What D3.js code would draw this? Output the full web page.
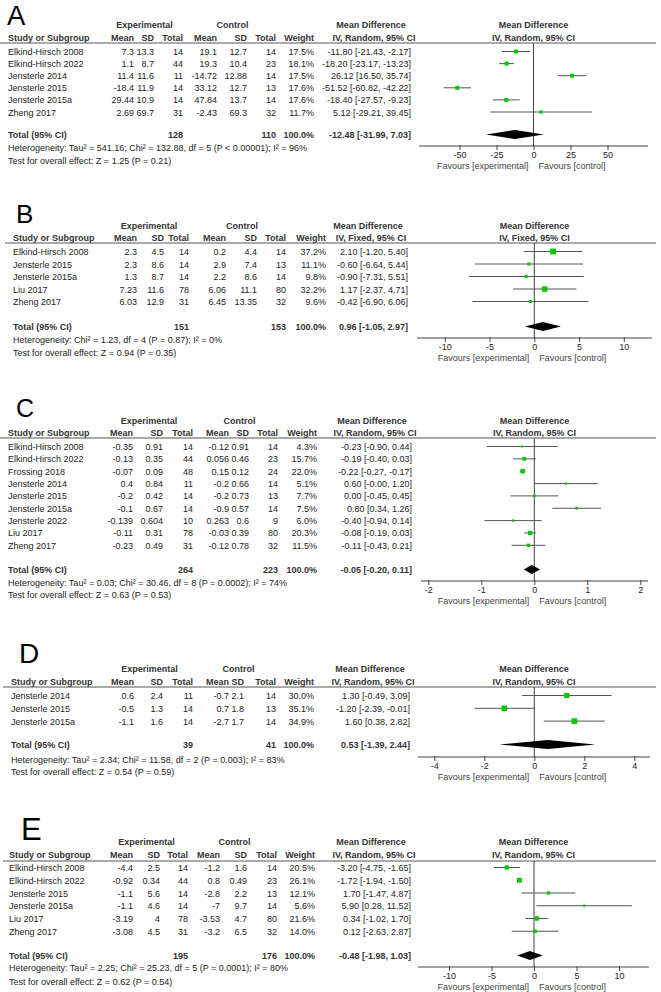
<!DOCTYPE html>
<html>
<head>
<meta charset="utf-8">
<script src="https://cdn.jsdelivr.net/npm/d3@7"></script>
<style>
  body { margin: 0; background: #fff; }
  svg text { font-family: "Liberation Sans", Arial, sans-serif; font-size: 9px; fill: #222; }
  svg text.b { font-weight: bold; fill: #333; }
</style>
</head>
<body>
<svg id="chart" width="661" height="992"></svg>
<script>
// ---- Panel A ----
const studiesA = ['Elkind-Hirsch 2008', 'Elkind-Hirsch 2022', 'Jensterle 2014', 'Jensterle 2015', 'Jensterle 2015a', 'Zheng 2017'];
const cellsA = [
  ['7.3', '13.3', '14', '19.1', '12.7', '14'],
  ['1.1', '8.7', '44', '19.3', '10.4', '23'],
  ['11.4', '11.6', '11', '-14.72', '12.88', '14'],
  ['-18.4', '11.9', '14', '33.12', '12.7', '13'],
  ['29.44', '10.9', '14', '47.84', '13.7', '14'],
  ['2.69', '69.7', '31', '-2.43', '69.3', '32']
];
const weightA = [17.5, 18.1, 17.5, 17.6, 17.6, 11.7];
const mdA = [-11.80, -18.20, 26.12, -51.52, -18.40, 5.12];
const loA = [-21.43, -23.17, 16.50, -60.82, -27.57, -29.21];
const hiA = [-2.17, -13.23, 35.74, -42.22, -9.23, 39.45];
const totalsA = ['128', '110'];
const pooledA = [-12.48, -31.99, 7.03];
const hetA = 'Heterogeneity: Tau² = 541.16; Chi² = 132.88, df = 5 (P < 0.00001); I² = 96%';
const testA = 'Test for overall effect: Z = 1.25 (P = 0.21)';
const ticksA = [-50, -25, 0, 25, 50];

// ---- Panel B ----
const studiesB = ['Elkind-Hirsch 2008', 'Jensterle 2015', 'Jensterle 2015a', 'Liu 2017', 'Zheng 2017'];
const cellsB = [
  ['2.3', '4.5', '14', '0.2', '4.4', '14'],
  ['2.3', '8.6', '14', '2.9', '7.4', '13'],
  ['1.3', '8.7', '14', '2.2', '8.6', '14'],
  ['7.23', '11.6', '78', '6.06', '11.1', '80'],
  ['6.03', '12.9', '31', '6.45', '13.35', '32']
];
const weightB = [37.2, 11.1, 9.8, 32.2, 9.6];
const mdB = [2.10, -0.60, -0.90, 1.17, -0.42];
const loB = [-1.20, -6.64, -7.31, -2.37, -6.90];
const hiB = [5.40, 5.44, 5.51, 4.71, 6.06];
const totalsB = ['151', '153'];
const pooledB = [0.96, -1.05, 2.97];
const hetB = 'Heterogeneity: Chi² = 1.23, df = 4 (P = 0.87); I² = 0%';
const testB = 'Test for overall effect: Z = 0.94 (P = 0.35)';
const ticksB = [-10, -5, 0, 5, 10];

// ---- Panel C ----
const studiesC = ['Elkind-Hirsch 2008', 'Elkind-Hirsch 2022', 'Frossing 2018', 'Jensterle 2014', 'Jensterle 2015',
  'Jensterle 2015a', 'Jensterle 2022', 'Liu 2017', 'Zheng 2017'];
const cellsC = [
  ['-0.35', '0.91', '14', '-0.12', '0.91', '14'],
  ['-0.13', '0.35', '44', '0.056', '0.46', '23'],
  ['-0.07', '0.09', '48', '0.15', '0.12', '24'],
  ['0.4', '0.84', '11', '-0.2', '0.66', '14'],
  ['-0.2', '0.42', '14', '-0.2', '0.73', '13'],
  ['-0.1', '0.67', '14', '-0.9', '0.57', '14'],
  ['-0.139', '0.604', '10', '0.263', '0.6', '9'],
  ['-0.11', '0.31', '78', '-0.03', '0.39', '80'],
  ['-0.23', '0.49', '31', '-0.12', '0.78', '32']
];
const weightC = [4.3, 15.7, 22.0, 5.1, 7.7, 7.5, 6.0, 20.3, 11.5];
const mdC = [-0.23, -0.19, -0.22, 0.60, 0.00, 0.80, -0.40, -0.08, -0.11];
const loC = [-0.90, -0.40, -0.27, -0.00, -0.45, 0.34, -0.94, -0.19, -0.43];
const hiC = [0.44, 0.03, -0.17, 1.20, 0.45, 1.26, 0.14, 0.03, 0.21];
const totalsC = ['264', '223'];
const pooledC = [-0.05, -0.20, 0.11];
const hetC = 'Heterogeneity: Tau² = 0.03; Chi² = 30.46, df = 8 (P = 0.0002); I² = 74%';
const testC = 'Test for overall effect: Z = 0.63 (P = 0.53)';
const ticksC = [-2, -1, 0, 1, 2];

// ---- Panel D ----
const studiesD = ['Jensterle 2014', 'Jensterle 2015', 'Jensterle 2015a'];
const cellsD = [
  ['0.6', '2.4', '11', '-0.7', '2.1', '14'],
  ['-0.5', '1.3', '14', '0.7', '1.8', '13'],
  ['-1.1', '1.6', '14', '-2.7', '1.7', '14']
];
const weightD = [30.0, 35.1, 34.9];
const mdD = [1.30, -1.20, 1.60];
const loD = [-0.49, -2.39, 0.38];
const hiD = [3.09, -0.01, 2.82];
const totalsD = ['39', '41'];
const pooledD = [0.53, -1.39, 2.44];
const hetD = 'Heterogeneity: Tau² = 2.34; Chi² = 11.58, df = 2 (P = 0.003); I² = 83%';
const testD = 'Test for overall effect: Z = 0.54 (P = 0.59)';
const ticksD = [-4, -2, 0, 2, 4];

// ---- Panel E ----
const studiesE = ['Elkind-Hirsch 2008', 'Elkind-Hirsch 2022', 'Jensterle 2015', 'Jensterle 2015a', 'Liu 2017', 'Zheng 2017'];
const cellsE = [
  ['-4.4', '2.5', '14', '-1.2', '1.6', '14'],
  ['-0.92', '0.34', '44', '0.8', '0.49', '23'],
  ['-1.1', '5.6', '14', '-2.8', '2.2', '13'],
  ['-1.1', '4.6', '14', '-7', '9.7', '14'],
  ['-3.19', '4', '78', '-3.53', '4.7', '80'],
  ['-3.08', '4.5', '31', '-3.2', '6.5', '32']
];
const weightE = [20.5, 26.1, 12.1, 5.6, 21.6, 14.0];
const mdE = [-3.20, -1.72, 1.70, 5.90, 0.34, 0.12];
const loE = [-4.75, -1.94, -1.47, 0.28, -1.02, -2.63];
const hiE = [-1.65, -1.50, 4.87, 11.52, 1.70, 2.87];
const totalsE = ['195', '176'];
const pooledE = [-0.48, -1.98, 1.03];
const hetE = 'Heterogeneity: Tau² = 2.25; Chi² = 25.23, df = 5 (P = 0.0001); I² = 80%';
const testE = 'Test for overall effect: Z = 0.62 (P = 0.54)';
const ticksE = [-10, -5, 0, 5, 10];

const colHeads = ['Mean', 'SD', 'Total', 'Mean', 'SD', 'Total', 'Weight'];

// layout of each panel (pixel positions)
const panels = [
  { key: 'A', studies: studiesA, cells: cellsA, weight: weightA, md: mdA, lo: loA, hi: hiA, totals: totalsA,
    pooled: pooledA, het: hetA, test: testA, ticks: ticksA, method: 'IV, Random, 95% CI',
    L: { letterX: 7, letterY: 25, letterSize: 27.5, h1: 28, h2: 41, line: 43, lineX0: 0, row0: 55, step: 12.1,
      total: 138, hetY: 151, testY: 164, axisY: 146, studyX: 8,
      cols: [134, 154, 183, 217, 247, 276, 314], mdX: 411, zero: 533.5, tickPx: 74, axisX: [419, 648] } },
  { key: 'B', studies: studiesB, cells: cellsB, weight: weightB, md: mdB, lo: loB, hi: hiB, totals: totalsB,
    pooled: pooledB, het: hetB, test: testB, ticks: ticksB, method: 'IV, Fixed, 95% CI',
    L: { letterX: 16, letterY: 223, letterSize: 26, h1: 229, h2: 241, line: 243, lineX0: 5, row0: 255, step: 12.5,
      total: 330, hetY: 343, testY: 356, axisY: 338, studyX: 13,
      cols: [137, 164, 189, 226, 257, 286, 326], mdX: 408, zero: 534.3, tickPx: 89.5, axisX: [417, 652] } },
  { key: 'C', studies: studiesC, cells: cellsC, weight: weightC, md: mdC, lo: loC, hi: hiC, totals: totalsC,
    pooled: pooledC, het: hetC, test: testC, ticks: ticksC, method: 'IV, Random, 95% CI',
    L: { letterX: 16, letterY: 417, letterSize: 25, h1: 424, h2: 436, line: 438, lineX0: 0, row0: 450, step: 12.35,
      total: 573, hetY: 586, testY: 598, axisY: 581, studyX: 8,
      cols: [133, 163, 193, 229, 249, 278, 317], mdX: 412, zero: 534.3, tickPx: 106, axisX: [421, 648] } },
  { key: 'D', studies: studiesD, cells: cellsD, weight: weightD, md: mdD, lo: loD, hi: hiD, totals: totalsD,
    pooled: pooledD, het: hetD, test: testD, ticks: ticksD, method: 'IV, Random, 95% CI',
    L: { letterX: 19, letterY: 663, letterSize: 28, h1: 672, h2: 685, line: 687, lineX0: 3, row0: 699, step: 12.8,
      total: 748, hetY: 763, testY: 775, axisY: 757, studyX: 11,
      cols: [134, 163, 193, 229, 244, 276, 314], mdX: 410, zero: 534.3, tickPx: 100, axisX: [418, 650] } },
  { key: 'E', studies: studiesE, cells: cellsE, weight: weightE, md: mdE, lo: loE, hi: hiE, totals: totalsE,
    pooled: pooledE, het: hetE, test: testE, ticks: ticksE, method: 'IV, Random, 95% CI',
    L: { letterX: 21, letterY: 840, letterSize: 31, h1: 845, h2: 858, line: 861, lineX0: 3, row0: 871, step: 12.75,
      total: 959, hetY: 971, testY: 985, axisY: 967, studyX: 9,
      cols: [133, 160, 188, 220, 247, 277, 315], mdX: 411, zero: 534, tickPx: 85, axisX: [418, 649] } }
];

const svg = d3.select('#chart');
const fmt = v => (v < 0 || Object.is(v, -0)) ? '-' + Math.abs(v).toFixed(2) : v.toFixed(2);
const ciText = (m, l, h) => `${fmt(m)} [${fmt(l)}, ${fmt(h)}]`;

function drawPanel(p) {
  const L = p.L, c = L.cols;
  const g = svg.append('g');

  g.append('text')
    .attr('x', L.letterX).attr('y', L.letterY)
    .style('font-size', L.letterSize + 'px').style('fill', '#000')
    .text(p.key);

  // group headers
  const bold = (x, y, t, anchor) => g.append('text').attr('class', 'b')
    .attr('x', x).attr('y', y).attr('text-anchor', anchor || 'start').text(t);
  bold((c[0] - 28 + c[2]) / 2, L.h1, 'Experimental', 'middle');
  bold((c[3] - 28 + c[5]) / 2, L.h1, 'Control', 'middle');
  bold(L.mdX - 40, L.h1, 'Mean Difference', 'middle');
  bold(L.mdX - 37, L.h2, p.method, 'middle');
  const plotMid = (L.axisX[0] + L.axisX[1]) / 2;
  bold(plotMid, L.h1, 'Mean Difference', 'middle');
  bold(plotMid, L.h2, p.method, 'middle');
  bold(L.studyX, L.h2, 'Study or Subgroup');
  colHeads.forEach((h, i) => bold(c[i], L.h2, h, 'end'));

  g.append('line')
    .attr('x1', L.lineX0).attr('x2', 656)
    .attr('y1', L.line).attr('y2', L.line)
    .attr('stroke', '#555').attr('stroke-width', 1);

  const x = d3.scaleLinear()
    .domain([-p.ticks[p.ticks.length - 1], p.ticks[p.ticks.length - 1]])
    .range([L.zero - L.tickPx, L.zero + L.tickPx]);
  const rowY = i => L.row0 + i * L.step;

  // zero line
  g.append('line')
    .attr('x1', x(0)).attr('x2', x(0))
    .attr('y1', L.line).attr('y2', L.axisY)
    .attr('stroke', '#444').attr('stroke-width', 1);

  // study rows
  p.studies.forEach((s, i) => {
    const y = rowY(i);
    g.append('text').attr('x', L.studyX).attr('y', y).text(s);
    p.cells[i].forEach((v, j) => {
      g.append('text').attr('x', c[j]).attr('y', y).attr('text-anchor', 'end').text(v);
    });
    g.append('text').attr('x', c[6]).attr('y', y).attr('text-anchor', 'end')
      .text(p.weight[i].toFixed(1) + '%');
    g.append('text').attr('x', L.mdX).attr('y', y).attr('text-anchor', 'end')
      .text(ciText(p.md[i], p.lo[i], p.hi[i]));

    const cy = y - 3.5;
    g.append('line')
      .attr('x1', x(p.lo[i])).attr('x2', x(p.hi[i]))
      .attr('y1', cy).attr('y2', cy)
      .attr('stroke', '#555').attr('stroke-width', 1);
    const side = Math.max(2, Math.sqrt(p.weight[i]) * 0.95);
    g.append('rect')
      .attr('x', x(p.md[i]) - side / 2).attr('y', cy - side / 2)
      .attr('width', side).attr('height', side)
      .attr('fill', '#00c800');
  });

  // total row
  bold(L.studyX, L.total, 'Total (95% CI)');
  bold(c[2], L.total, p.totals[0], 'end');
  bold(c[5], L.total, p.totals[1], 'end');
  bold(c[6], L.total, '100.0%', 'end');
  bold(L.mdX, L.total, ciText(p.pooled[0], p.pooled[1], p.pooled[2]), 'end');

  const ty = L.total - 3.5, dh = 4.5;
  g.append('path')
    .attr('d', `M${x(p.pooled[1])},${ty}L${x(p.pooled[0])},${ty - dh}L${x(p.pooled[2])},${ty}L${x(p.pooled[0])},${ty + dh}Z`)
    .attr('fill', '#000');

  g.append('text').attr('x', L.studyX).attr('y', L.hetY).text(p.het);
  g.append('text').attr('x', L.studyX).attr('y', L.testY).text(p.test);

  // axis
  g.append('line')
    .attr('x1', L.axisX[0]).attr('x2', L.axisX[1])
    .attr('y1', L.axisY).attr('y2', L.axisY)
    .attr('stroke', '#444').attr('stroke-width', 1);
  const ax = g.append('g')
    .attr('transform', `translate(0,${L.axisY})`)
    .call(d3.axisBottom(x).tickValues(p.ticks).tickSizeInner(4).tickSizeOuter(0).tickPadding(2)
      .tickFormat(d3.format('d')));
  ax.select('.domain').remove();
  ax.selectAll('.tick line').attr('stroke', '#444').attr('y1', -1);
  ax.selectAll('.tick text')
    .attr('font-family', null).attr('font-size', null)
    .style('font-size', '9px').style('fill', '#222')
    .text(d => d < 0 ? '-' + Math.abs(d) : d);

  g.append('text').attr('x', x(0) - 5).attr('y', L.axisY + 23).attr('text-anchor', 'end')
    .style('fill', '#444').text('Favours [experimental]');
  g.append('text').attr('x', x(0) + 5).attr('y', L.axisY + 23)
    .style('fill', '#444').text('Favours [control]');
}

panels.forEach(drawPanel);
</script>
</body>
</html>
